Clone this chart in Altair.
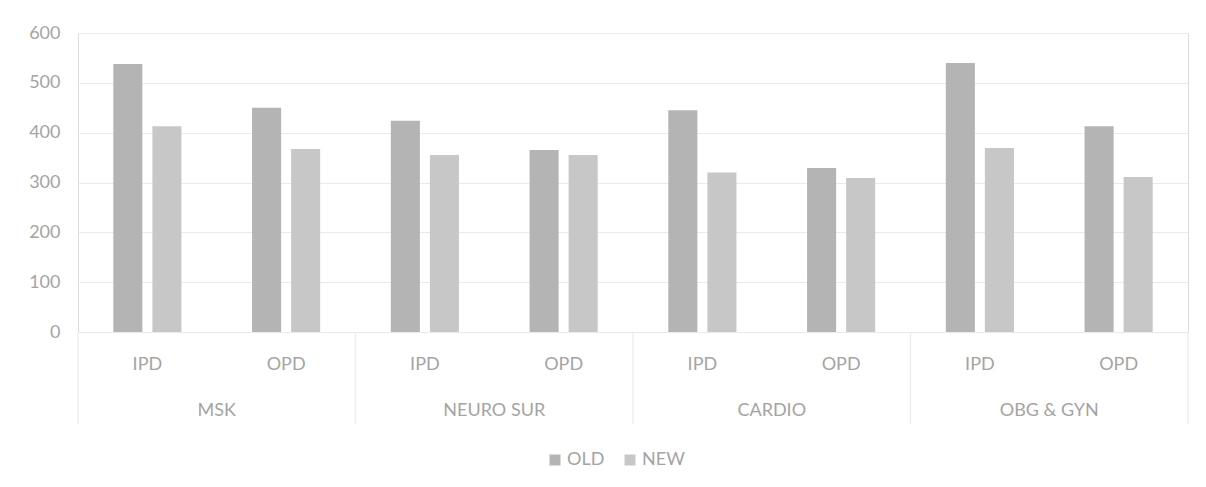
import altair as alt
import pandas as pd

categories = ["MSK", "NEURO SUR", "CARDIO", "OBG & GYN"]
visit_types = ["IPD", "OPD"]
series = ["OLD", "NEW"]
old_values = [538, 450, 424, 365, 445, 329, 540, 413]
new_values = [413, 367, 355, 355, 320, 309, 369, 311]
y_ticks = [0, 100, 200, 300, 400, 500, 600]

FONT = "Lato"
TXT = "#a4a4a4"
W, H = 1110, 299

keys = [f"{c}|{t}" for c in categories for t in visit_types]

rows = []
for i, k in enumerate(keys):
    rows.append({"key": k, "series": "OLD", "value": old_values[i]})
    rows.append({"key": k, "series": "NEW", "value": new_values[i]})
df = pd.DataFrame(rows)

sub_df = pd.DataFrame({"key": keys, "label": [t for c in categories for t in visit_types]})
cat_df = pd.DataFrame({"key": [f"{c}|OPD" for c in categories], "label": categories})
left_df = pd.DataFrame({"key": [f"{c}|IPD" for c in categories]})
right_df = pd.DataFrame({"key": [f"{categories[-1]}|OPD"]})

xscale = alt.Scale(domain=keys, paddingInner=0, paddingOuter=0)

bars = alt.Chart(df).mark_bar().encode(
    x=alt.X("key:N", scale=xscale, sort=keys, title=None, axis=None),
    xOffset=alt.XOffset("series:N", sort=series,
                        scale=alt.Scale(domain=series, paddingInner=0.256, paddingOuter=0.904)),
    y=alt.Y("value:Q", scale=alt.Scale(domain=[0, 600]), title=None,
            axis=alt.Axis(values=y_ticks, ticks=False, domain=False,
                          gridColor="#ebe8ee", gridWidth=1,
                          labelFont=FONT, labelFontSize=18, labelColor=TXT,
                          labelPadding=18)),
    color=alt.Color("series:N", sort=series,
                    scale=alt.Scale(domain=series, range=["#b4b4b4", "#c7c7c7"]),
                    legend=alt.Legend(title=None, orient="none", direction="horizontal",
                                      legendX=468, legendY=418, symbolType="square",
                                      symbolSize=120, symbolStrokeWidth=0,
                                      labelFont=FONT, labelFontSize=18, labelColor=TXT,
                                      columnPadding=16, labelOffset=3)),
)

sub_text = alt.Chart(sub_df).mark_text(font=FONT, fontSize=18, color=TXT, baseline="middle").encode(
    x=alt.X("key:N", scale=xscale, sort=keys, bandPosition=0.5, axis=None),
    y=alt.value(H + 33),
    text="label:N",
)

cat_text = alt.Chart(cat_df).mark_text(font=FONT, fontSize=18, color=TXT, baseline="middle").encode(
    x=alt.X("key:N", scale=xscale, sort=keys, bandPosition=0, axis=None),
    y=alt.value(H + 79),
    text="label:N",
)

left_rules = alt.Chart(left_df).mark_rule(color="#eeeeee", strokeWidth=1.5).encode(
    x=alt.X("key:N", scale=xscale, sort=keys, bandPosition=0, axis=None),
    y=alt.value(H + 1),
    y2=alt.value(H + 92),
)

right_rules = alt.Chart(right_df).mark_rule(color="#eeeeee", strokeWidth=1.5).encode(
    x=alt.X("key:N", scale=xscale, sort=keys, bandPosition=1, axis=None),
    y=alt.value(H + 1),
    y2=alt.value(H + 92),
)

chart = alt.layer(bars, left_rules, right_rules, sub_text, cat_text).properties(
    width=W, height=H,
    autosize=alt.AutoSizeParams(type="none"),
    padding={"left": 70, "top": 25, "right": 10, "bottom": 147},
).configure_view(stroke=None).configure(background="white")

chart.save("out.html", embed_options={"renderer": "svg", "actions": False})
